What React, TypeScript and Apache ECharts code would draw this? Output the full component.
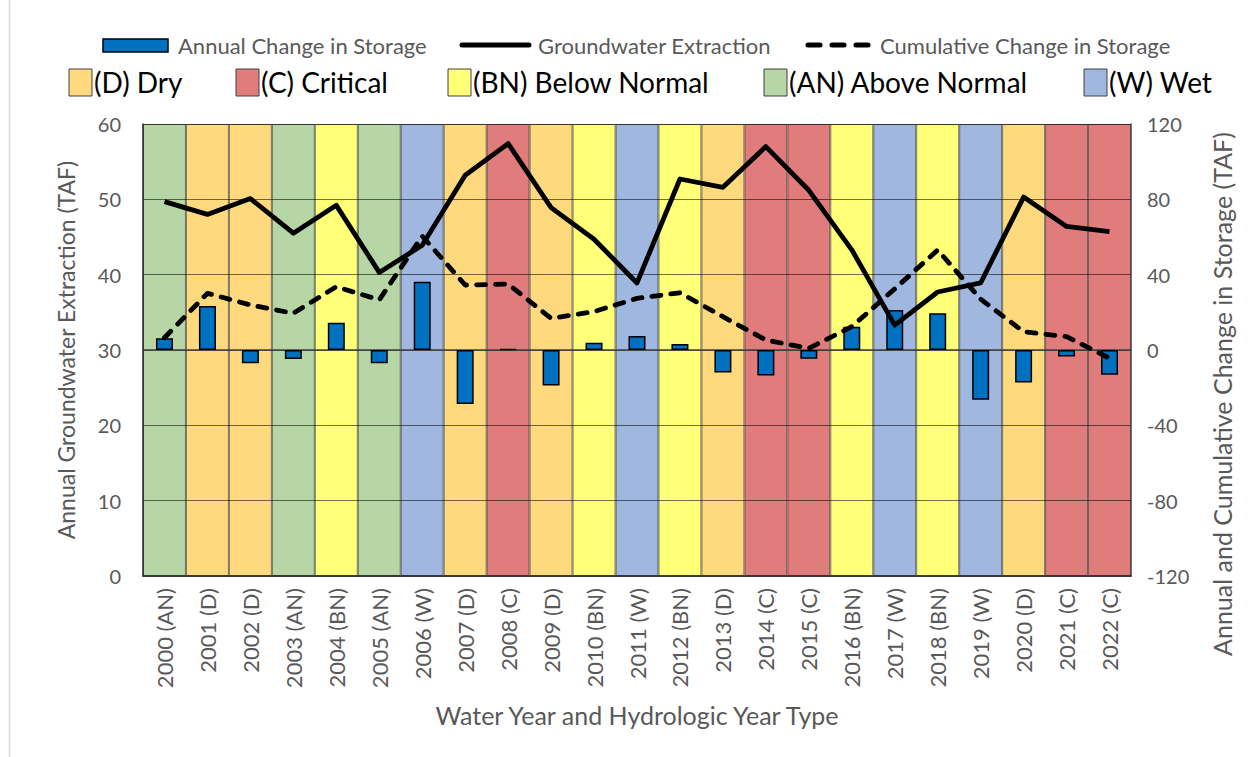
import React, { useEffect, useRef } from "react";
import * as echarts from "echarts";

const years = [
  "2000 (AN)", "2001 (D)", "2002 (D)", "2003 (AN)", "2004 (BN)", "2005 (AN)",
  "2006 (W)", "2007 (D)", "2008 (C)", "2009 (D)", "2010 (BN)", "2011 (W)",
  "2012 (BN)", "2013 (D)", "2014 (C)", "2015 (C)", "2016 (BN)", "2017 (W)",
  "2018 (BN)", "2019 (W)", "2020 (D)", "2021 (C)", "2022 (C)",
];
const yearTypes = [
  "AN", "D", "D", "AN", "BN", "AN", "W", "D", "C", "D", "BN", "W",
  "BN", "D", "C", "C", "BN", "W", "BN", "W", "D", "C", "C",
];
const extraction = [
  49.7, 48.0, 50.1, 45.5, 49.2, 40.3, 43.9, 53.2, 57.4, 48.9, 44.7, 38.9,
  52.7, 51.6, 57.0, 51.2, 43.3, 33.3, 37.7, 38.9, 50.3, 46.4, 45.7,
];
const annualChange = [
  6.2, 23.4, -7.1, -4.8, 14.5, -7.1, 36.3, -28.7, 0.4, -18.8, 3.9, 7.4,
  3.2, -12.0, -13.6, -4.6, 12.4, 21.2, 19.5, -26.4, -17.2, -3.5, -13.1,
];
const cumulative = [
  6.5, 30.1, 23.9, 19.5, 33.6, 26.6, 60.5, 34.5, 35.0, 16.8, 20.4, 27.4,
  30.4, 17.7, 5.3, 0.9, 12.4, 32.5, 53.1, 27.0, 9.7, 7.1, -4.4,
];
const leftTicks = { min: 0, max: 60, interval: 10 };
const rightTicks = { min: -120, max: 120, interval: 40 };
const typeLegend = [
  { key: "D", label: "(D) Dry" },
  { key: "C", label: "(C) Critical" },
  { key: "BN", label: "(BN) Below Normal" },
  { key: "AN", label: "(AN) Above Normal" },
  { key: "W", label: "(W) Wet" },
];

const typeColors: Record<string, string> = {
  D: "#FFD97E",
  C: "#E07C7C",
  BN: "#FFFF78",
  AN: "#B6D6A5",
  W: "#A0B7E0",
};

const FONT = "Lato";
const GREY = "#595959";

export default function App() {
  const ref = useRef<HTMLDivElement>(null);
  useEffect(() => {
    if (!ref.current) return;
    const chart = echarts.init(ref.current, undefined, { renderer: "svg" });

    const typeLegendX = [69, 236, 448, 764, 1084];
    const graphic: any[] = [
      { type: "line", shape: { x1: 9.5, y1: 0, x2: 9.5, y2: 757 }, style: { stroke: "#d9d9d9", lineWidth: 1.5 } },
      // row 1 legend
      { type: "rect", shape: { x: 103, y: 39, width: 65, height: 13 }, style: { fill: "#0070C0", stroke: "#000", lineWidth: 1.5 } },
      { type: "text", style: { text: "Annual Change in Storage", x: 178, y: 45, fill: GREY, fontSize: 22, fontFamily: FONT, textVerticalAlign: "middle" } },
      { type: "line", shape: { x1: 462, y1: 45, x2: 529, y2: 45 }, style: { stroke: "#000", lineWidth: 5, lineCap: "round" } },
      { type: "text", style: { text: "Groundwater Extraction", x: 538, y: 45, fill: GREY, fontSize: 22, fontFamily: FONT, textVerticalAlign: "middle" } },
      { type: "line", shape: { x1: 808, y1: 45, x2: 868, y2: 45 }, style: { stroke: "#000", lineWidth: 5, lineCap: "round", lineDash: [12, 12] } },
      { type: "text", style: { text: "Cumulative Change in Storage", x: 880, y: 45, fill: GREY, fontSize: 22, fontFamily: FONT, textVerticalAlign: "middle" } },
      {
        type: "text",
        x: 1222,
        y: 394,
        rotation: Math.PI / 2,
        style: { text: "Annual and Cumulative Change in Storage (TAF)", fill: GREY, fontSize: 25, fontFamily: FONT, textAlign: "center", textVerticalAlign: "middle" },
      },
    ];
    typeLegend.forEach((t, i) => {
      const x = typeLegendX[i];
      graphic.push({ type: "rect", shape: { x, y: 69, width: 23, height: 27 }, style: { fill: typeColors[t.key], stroke: "#404040", lineWidth: 1 } });
      graphic.push({ type: "text", style: { text: t.label, x: x + 25, y: 82, fill: "#000", fontSize: 28, fontFamily: FONT, textVerticalAlign: "middle" } });
    });

    chart.setOption({
      animation: false,
      backgroundColor: "#fff",
      textStyle: { fontFamily: FONT },
      grid: { left: 143, right: 123, top: 124, bottom: 181, containLabel: false },
      graphic,
      xAxis: [
        {
          type: "category",
          data: years,
          position: "bottom",
          z: 5,
          axisLine: { show: true, lineStyle: { color: "#262626", width: 1.5 } },
          axisTick: { show: false },
          axisLabel: { rotate: 90, fontSize: 22, color: GREY, margin: 12, fontFamily: FONT },
          name: "Water Year and Hydrologic Year Type",
          nameLocation: "middle",
          nameGap: 126,
          nameTextStyle: { fontSize: 25, color: GREY, fontFamily: FONT },
        },
        {
          type: "category",
          data: years,
          position: "top",
          z: 5,
          axisLine: { show: true, lineStyle: { color: "#404040", width: 1.5 } },
          axisTick: { show: false },
          axisLabel: { show: false },
        },
      ],
      yAxis: [
        {
          type: "value",
          ...leftTicks,
          position: "left",
          z: 5,
          axisLine: { show: true, lineStyle: { color: "#262626", width: 1.5 } },
          axisTick: { show: false },
          splitLine: { show: true, lineStyle: { color: "rgba(0,0,0,0.55)", width: 1 } },
          axisLabel: { fontSize: 20, color: GREY, margin: 22, fontFamily: FONT },
          name: "Annual Groundwater Extraction (TAF)",
          nameLocation: "middle",
          nameGap: 66,
          nameTextStyle: { fontSize: 23, color: GREY, fontFamily: FONT },
        },
        {
          type: "value",
          ...rightTicks,
          position: "right",
          z: 5,
          axisLine: { show: true, lineStyle: { color: "#404040", width: 1.5 } },
          axisTick: { show: false },
          splitLine: { show: false },
          axisLabel: { fontSize: 20, color: GREY, margin: 16, fontFamily: FONT },
        },
      ],
      series: [
        {
          name: "Year Type",
          type: "bar",
          xAxisIndex: 1,
          yAxisIndex: 0,
          barWidth: "100%",
          silent: true,
          z: 1,
          data: yearTypes.map((t) => ({
            value: leftTicks.max,
            itemStyle: { color: typeColors[t], borderColor: "rgba(0,0,0,0.5)", borderWidth: 1 },
          })),
        },
        {
          name: "Annual Change in Storage",
          type: "bar",
          xAxisIndex: 0,
          yAxisIndex: 1,
          barWidth: 17,
          z: 6,
          itemStyle: { color: "#0070C0", borderColor: "#000", borderWidth: 1.5 },
          data: annualChange,
        },
        {
          name: "Groundwater Extraction",
          type: "line",
          xAxisIndex: 0,
          yAxisIndex: 0,
          symbol: "none",
          z: 7,
          lineStyle: { color: "#000", width: 4.8, join: "round" },
          data: extraction,
        },
        {
          name: "Cumulative Change in Storage",
          type: "line",
          xAxisIndex: 0,
          yAxisIndex: 1,
          symbol: "none",
          z: 7,
          lineStyle: { color: "#000", width: 4.8, type: [9, 10], cap: "round", join: "round" },
          data: cumulative,
        },
      ],
    });
    return () => chart.dispose();
  }, []);

  return (
    <div
      ref={ref}
      style={{ position: "fixed", left: 0, top: 0, width: 1254, height: 757 }}
    />
  );
}
